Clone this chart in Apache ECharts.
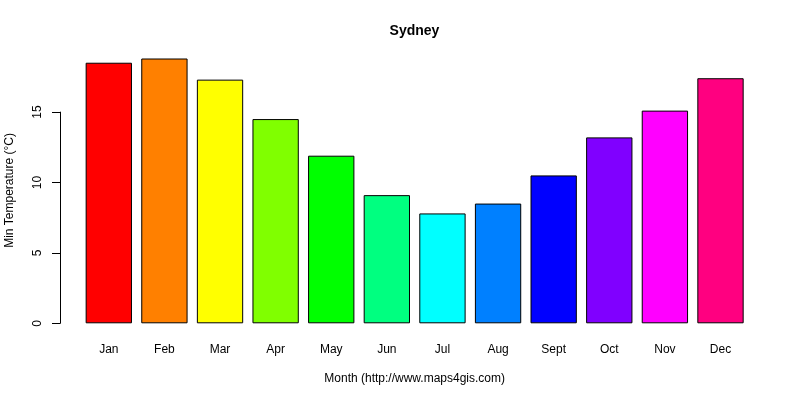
<!DOCTYPE html>
<html>
<head>
<meta charset="utf-8">
<script src="https://cdn.jsdelivr.net/npm/echarts@6/dist/echarts.min.js"></script>
<style>html,body{margin:0;padding:0;background:#fff}#c{width:800px;height:400px}</style>
</head>
<body>
<div id="c"></div>
<script>
const months = ['Jan','Feb','Mar','Apr','May','Jun','Jul','Aug','Sept','Oct','Nov','Dec'];
const minTemp = [18.5, 18.8, 17.3, 14.5, 11.9, 9.1, 7.8, 8.5, 10.5, 13.2, 15.1, 17.4];
const barColors = ['#FF0000','#FF8000','#FFFF00','#80FF00','#00FF00','#00FF80','#00FFFF','#0080FF','#0000FF','#8000FF','#FF00FF','#FF0080'];
const yTicks = [0, 5, 10, 15];

const font = 'Liberation Sans, Arial, sans-serif';
const chart = echarts.init(document.getElementById('c'));
chart.setOption({
  animation: false,
  backgroundColor: '#fff',
  graphic: [
    {
      type: 'text', x: 414.5, y: 31,
      style: { text: 'Sydney', font: 'bold 14px ' + font, fill: '#000', align: 'center', verticalAlign: 'middle' }
    },
    {
      type: 'text', left: 4, top: 133, rotation: Math.PI / 2,
      style: { text: 'Min Temperature (°C)', font: '12px ' + font, fill: '#000' }
    }
  ],
  grid: [
    { left: 81, right: 51.7, top: 41.6, bottom: 76.7 },
    { left: 60, width: 10, top: 112.1, bottom: 76.7 }
  ],
  xAxis: [
    {
      gridIndex: 0, type: 'category', data: months,
      axisLine: { show: false }, axisTick: { show: false },
      axisLabel: { margin: 20, fontFamily: font, fontSize: 12, color: '#000' },
      name: 'Month (http://www.maps4gis.com)', nameLocation: 'middle', nameGap: 49,
      nameTextStyle: { fontFamily: font, fontSize: 12, color: '#000' }
    },
    { gridIndex: 1, type: 'value', show: false }
  ],
  yAxis: [
    { gridIndex: 0, type: 'value', min: 0, max: 20, show: false, splitLine: { show: false } },
    {
      gridIndex: 1, type: 'value', min: yTicks[0], max: yTicks[yTicks.length - 1], interval: 5,
      axisLine: { show: true, lineStyle: { color: '#000', width: 1 } },
      axisTick: { show: true, length: 8, lineStyle: { color: '#000' } },
      axisLabel: { rotate: 90, margin: 16, fontFamily: font, fontSize: 12, color: '#000' },
      splitLine: { show: false }
    }
  ],
  series: [{
    type: 'bar', xAxisIndex: 0, yAxisIndex: 0,
    data: minTemp.map((v, i) => ({ value: v, itemStyle: { color: barColors[i] } })),
    barCategoryGap: '16.7%',
    itemStyle: { borderColor: '#000', borderWidth: 1 }
  }]
});
</script>
</body>
</html>
